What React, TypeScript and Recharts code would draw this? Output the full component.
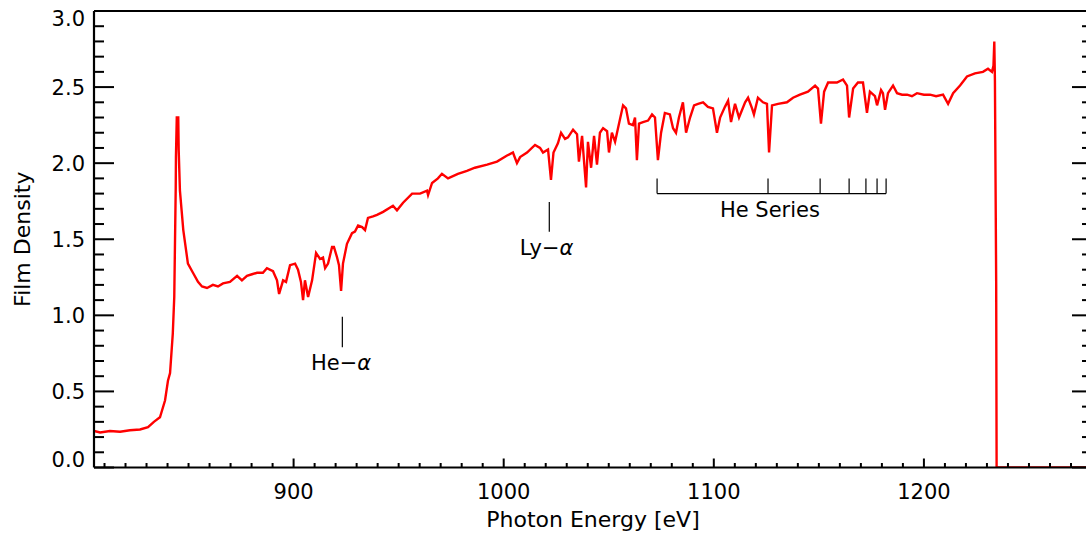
import { LineChart, Line, XAxis, YAxis, ReferenceLine, ReferenceDot } from 'recharts';

// photon energy (eV) and film density
const energy = [
  805.0, 807.9, 812.6, 817.4, 822.1, 826.9, 830.7, 833.5, 836.4, 838.8,
  840.2, 841.2, 842.5, 843.2, 843.9, 844.0, 844.4, 845.1, 845.3, 845.9,
  846.7, 847.5, 849.7, 852.1, 854.5, 856.4, 858.8, 861.6, 864.0, 866.4,
  869.7, 873.1, 875.4, 877.8, 880.2, 882.6, 885.4, 887.3, 890.2, 892.1,
  893.1, 895.0, 896.4, 898.3, 900.7, 902.1, 903.5, 904.5, 905.4, 906.9,
  908.8, 910.7, 912.6, 914.0, 915.0, 916.4, 918.3, 919.2, 920.7, 921.6,
  922.6, 923.5, 925.4, 927.8, 929.2, 930.7, 932.6, 934.0, 935.4, 937.8,
  939.7, 942.6, 947.3, 949.2, 952.1, 956.4, 960.2, 963.5, 964.0, 965.9,
  968.7, 970.6, 973.5, 978.2, 982.5, 986.3, 992.1, 996.8, 1001.6, 1004.4,
  1006.3, 1007.8, 1011.1, 1014.9, 1017.3, 1018.7, 1021.1, 1022.5, 1023.7, 1025.8,
  1027.3, 1029.2, 1030.6, 1033.0, 1034.9, 1035.8, 1037.3, 1039.2, 1040.1, 1041.6,
  1043.0, 1044.4, 1045.8, 1047.3, 1049.2, 1050.1, 1051.5, 1053.0, 1054.4, 1056.8,
  1058.2, 1059.6, 1061.5, 1062.5, 1063.4, 1064.4, 1066.3, 1068.7, 1070.6, 1072.0,
  1073.4, 1074.9, 1076.7, 1079.1, 1080.6, 1082.0, 1083.4, 1085.3, 1086.8, 1088.7,
  1090.6, 1092.5, 1094.9, 1097.2, 1099.6, 1101.5, 1103.0, 1105.3, 1106.8, 1108.2,
  1110.1, 1112.0, 1114.9, 1116.3, 1118.2, 1119.1, 1121.0, 1123.4, 1125.3, 1126.3,
  1127.7, 1130.6, 1134.8, 1137.7, 1141.0, 1144.8, 1148.2, 1149.6, 1151.0, 1152.5,
  1154.4, 1158.6, 1161.5, 1163.4, 1164.4, 1166.3, 1168.6, 1171.0, 1172.9, 1174.3,
  1176.7, 1177.7, 1179.6, 1180.5, 1181.5, 1182.9, 1185.3, 1187.2, 1189.6, 1192.0,
  1194.3, 1196.7, 1200.0, 1202.9, 1205.8, 1209.1, 1211.5, 1213.9, 1217.2, 1220.5,
  1224.3, 1228.1, 1230.5, 1232.4, 1233.1, 1233.5, 1233.8, 1234.4, 1234.6, 1280,
];

const density = [
  0.24, 0.23, 0.24, 0.235, 0.245, 0.25, 0.265, 0.30, 0.33, 0.44,
  0.57, 0.62, 0.88, 1.12, 1.84, 2.04, 2.30, 2.30, 2.09, 1.82,
  1.69, 1.56, 1.34, 1.28, 1.22, 1.19, 1.18, 1.20, 1.19, 1.21,
  1.22, 1.26, 1.23, 1.26, 1.27, 1.28, 1.28, 1.31, 1.29, 1.23,
  1.14, 1.23, 1.22, 1.33, 1.34, 1.30, 1.22, 1.10, 1.23, 1.12,
  1.23, 1.41, 1.37, 1.38, 1.31, 1.34, 1.45, 1.45, 1.38, 1.33,
  1.16, 1.34, 1.47, 1.54, 1.55, 1.59, 1.58, 1.56, 1.64, 1.65,
  1.66, 1.68, 1.72, 1.69, 1.74, 1.80, 1.80, 1.82, 1.79, 1.87,
  1.90, 1.93, 1.90, 1.93, 1.95, 1.97, 1.99, 2.01, 2.05, 2.07,
  2.00, 2.04, 2.07, 2.12, 2.10, 2.07, 2.09, 1.89, 2.07, 2.13,
  2.20, 2.16, 2.17, 2.22, 2.19, 2.01, 2.18, 1.84, 2.14, 1.97,
  2.18, 1.99, 2.20, 2.23, 2.21, 2.07, 2.20, 2.14, 2.23, 2.38,
  2.36, 2.26, 2.25, 2.30, 2.02, 2.26, 2.27, 2.28, 2.32, 2.30,
  2.02, 2.20, 2.33, 2.32, 2.23, 2.20, 2.30, 2.40, 2.20, 2.30,
  2.38, 2.39, 2.40, 2.37, 2.36, 2.20, 2.30, 2.37, 2.41, 2.27,
  2.39, 2.30, 2.40, 2.43, 2.36, 2.32, 2.43, 2.40, 2.39, 2.07,
  2.38, 2.39, 2.40, 2.43, 2.45, 2.47, 2.51, 2.49, 2.26, 2.47,
  2.53, 2.53, 2.55, 2.51, 2.30, 2.49, 2.53, 2.53, 2.33, 2.47,
  2.44, 2.38, 2.48, 2.46, 2.35, 2.46, 2.51, 2.46, 2.45, 2.45,
  2.44, 2.46, 2.45, 2.45, 2.44, 2.45, 2.39, 2.46, 2.51, 2.57,
  2.59, 2.60, 2.62, 2.60, 2.64, 2.80, 2.54, 1.20, 0.0, 0.0,
];

// line identifications
const heSeries = [1073.0, 1125.8, 1150.6, 1164.4, 1172.4, 1177.7, 1182.0];
const lyAlpha = 1021.7;
const heAlpha = 923.2;

const xDomain = [805, 1280];
const yDomain = [0, 3];
const xLabels = [900, 1000, 1100, 1200];

const xTicks: number[] = [];
for (let v = 810; v <= 1270; v += 10) xTicks.push(v);
const yTicks: number[] = [];
for (let i = 0; i <= 30; i++) yTicks.push(i / 10);

const data = energy.map((e, i) => ({ e, d: density[i] }));

const FONT = '"DejaVu Sans", sans-serif';
const axisStyle = { stroke: '#000', strokeWidth: 2.2 };

const BottomTick = ({ x, y, payload }: any) => {
  const major = xLabels.includes(payload.value);
  return (
    <g>
      <line x1={x} x2={x} y1={y} y2={y - (major ? 9 : 4.5)} stroke="#000" strokeWidth={2} />
      {major && (
        <text x={x} y={y + 24} textAnchor="middle" dominantBaseline="central"
          fontFamily={FONT} fontSize={21} fill="#000" stroke="none">{payload.value}</text>
      )}
    </g>
  );
};

const TopTick = ({ x, y, payload }: any) => {
  const major = xLabels.includes(payload.value);
  return <line x1={x} x2={x} y1={y} y2={y + (major ? 9 : 4.5)} stroke="#000" strokeWidth={2} />;
};

const LeftTick = ({ x, y, payload }: any) => {
  const v = payload.value;
  const major = Math.round(v * 10) % 5 === 0;
  const shift = v === 0 ? -7.5 : v === 3 ? 8 : 0.5;
  return (
    <g>
      <line x1={x} x2={x + (major ? 20 : 10)} y1={y} y2={y} stroke="#000" strokeWidth={2} />
      {major && (
        <text x={x - 9} y={y + shift} textAnchor="end" dominantBaseline="central"
          fontFamily={FONT} fontSize={21} fill="#000" stroke="none">{v.toFixed(1)}</text>
      )}
    </g>
  );
};

const RightTick = ({ x, y, payload }: any) => {
  const major = Math.round(payload.value * 10) % 5 === 0;
  return <line x1={x} x2={x - (major ? 20 : 10)} y1={y} y2={y} stroke="#000" strokeWidth={2} />;
};

const XTitle = ({ viewBox }: any) => (
  <text x={viewBox.x + viewBox.width / 2} y={viewBox.y + 52} textAnchor="middle"
    dominantBaseline="central" fontFamily={FONT} fontSize={22} fill="#000" stroke="none">
    Photon Energy [eV]
  </text>
);

const YTitle = ({ viewBox }: any) => {
  const cx = viewBox.x + 22;
  const cy = viewBox.y + viewBox.height / 2;
  return (
    <text x={cx} y={cy} transform={`rotate(-90 ${cx} ${cy})`} textAnchor="middle"
      dominantBaseline="central" fontFamily={FONT} fontSize={22} fill="#000" stroke="none">
      Film Density
    </text>
  );
};

const AnnText = ({ viewBox, name, greek }: any) => (
  <text x={viewBox.x + viewBox.width / 2} y={viewBox.y + viewBox.height / 2}
    textAnchor="middle" dominantBaseline="central" fontFamily={FONT} fontSize={21} fill="#000" stroke="none">
    {name}
    {greek && <tspan fontStyle="italic">α</tspan>}
  </text>
);

const mark = { stroke: '#000', strokeWidth: 1.2 };

export default function App() {
  return (
    <div style={{ position: 'absolute', left: 0, top: 0, width: 1086, height: 533, overflow: 'hidden', background: '#fff' }}>
      <LineChart width={1094} height={533} data={data} margin={{ top: 0, right: 0, bottom: 0, left: 0 }}>
        <XAxis dataKey="e" type="number" domain={xDomain} ticks={xTicks} interval={0}
          allowDataOverflow height={65.5} tickSize={0} tickMargin={0}
          stroke="#000" strokeWidth={2.2} axisLine={axisStyle} tickLine={false}
          tick={<BottomTick />} label={<XTitle />} />
        <XAxis xAxisId="top" orientation="top" type="number" domain={xDomain} ticks={xTicks}
          interval={0} allowDataOverflow height={11} tickSize={0} tickMargin={0}
          stroke="#000" strokeWidth={2.2} axisLine={axisStyle} tickLine={false} tick={<TopTick />} />
        <YAxis type="number" domain={yDomain} ticks={yTicks} interval={0} allowDataOverflow
          width={94} tickSize={0} tickMargin={0}
          stroke="#000" strokeWidth={2.2} axisLine={axisStyle} tickLine={false}
          tick={<LeftTick />} label={<YTitle />} />
        <YAxis yAxisId="right" orientation="right" type="number" domain={yDomain} ticks={yTicks}
          interval={0} allowDataOverflow width={2} tickSize={0} tickMargin={0}
          stroke="#000" strokeWidth={2.2} axisLine={axisStyle} tickLine={false} tick={<RightTick />} />

        <ReferenceLine segment={[{ x: heAlpha, y: 0.79 }, { x: heAlpha, y: 0.99 }]} {...mark} />
        <ReferenceDot x={922.6} y={0.69} r={0} fill="none" stroke="none"
          label={<AnnText name="He−" greek />} />

        <ReferenceLine segment={[{ x: lyAlpha, y: 1.55 }, { x: lyAlpha, y: 1.745 }]} {...mark} />
        <ReferenceDot x={1020.4} y={1.44} r={0} fill="none" stroke="none"
          label={<AnnText name="Ly−" greek />} />

        <ReferenceLine segment={[{ x: heSeries[0], y: 1.8 }, { x: heSeries[heSeries.length - 1], y: 1.8 }]} {...mark} />
        {heSeries.map((e) => (
          <ReferenceLine key={e} segment={[{ x: e, y: 1.8 }, { x: e, y: 1.9 }]} {...mark} />
        ))}
        <ReferenceDot x={1126.7} y={1.69} r={0} fill="none" stroke="none"
          label={<AnnText name="He Series" />} />

        <Line type="linear" dataKey="d" stroke="#ff0000" strokeWidth={2.4} dot={false}
          activeDot={false} isAnimationActive={false} />
      </LineChart>
    </div>
  );
}
